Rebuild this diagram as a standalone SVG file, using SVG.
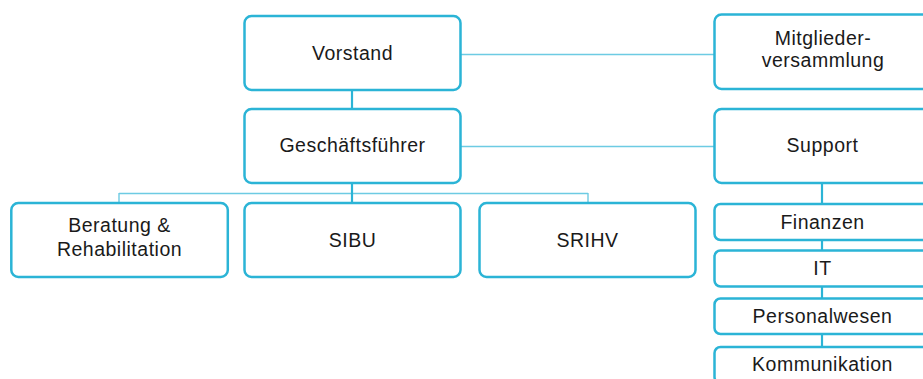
<svg xmlns="http://www.w3.org/2000/svg" width="923" height="379" viewBox="0 0 923 379">
<style>
.box{fill:#ffffff;stroke:#2bb4d6;stroke-width:2.5}
.t{font-family:"Liberation Sans","DejaVu Sans",sans-serif;font-size:19.5px;letter-spacing:0.5px;fill:#1a1a1a;text-anchor:middle}
.thick{stroke:#2bb4d6;stroke-width:2.2;fill:none}
.thin{stroke:#6dcbe3;stroke-width:1.4;fill:none}
</style>
<rect width="923" height="379" fill="#ffffff"/>
<g id="connectors">
<line class="thick" x1="352" y1="90" x2="352" y2="109"/>
<line class="thin" x1="461" y1="54.5" x2="714" y2="54.5"/>
<line class="thin" x1="461" y1="146.5" x2="714" y2="146.5"/>
<line class="thin" x1="119" y1="193.5" x2="588" y2="193.5"/>
<line class="thin" x1="119" y1="193" x2="119" y2="203"/>
<line class="thin" x1="588" y1="193" x2="588" y2="203"/>
<line class="thick" x1="352" y1="183" x2="352" y2="203"/>
<line class="thick" x1="822" y1="183" x2="822" y2="204"/>
<line class="thick" x1="822" y1="240" x2="822" y2="251"/>
<line class="thick" x1="822" y1="286" x2="822" y2="299"/>
<line class="thick" x1="822" y1="334" x2="822" y2="347"/>
</g>
<g id="vorstand"><rect class="box" x="244.5" y="16" width="216" height="74" rx="7"/><text class="t" x="352.5" y="59.5">Vorstand</text></g>
<g id="geschaeftsfuehrer"><rect class="box" x="244.5" y="109" width="216" height="74" rx="7"/><text class="t" x="352.5" y="152">Geschäftsführer</text></g>
<g id="mitglieder"><rect class="box" x="714.5" y="14.5" width="216" height="74.5" rx="7"/><text class="t" x="823" y="45">Mitglieder-</text><text class="t" x="823" y="66.5">versammlung</text></g>
<g id="support"><rect class="box" x="714.5" y="109" width="216" height="74" rx="7"/><text class="t" x="822.5" y="152">Support</text></g>
<g id="beratung"><rect class="box" x="11.3" y="203" width="216.5" height="74" rx="7"/><text class="t" x="119.5" y="231.5">Beratung &amp;</text><text class="t" x="119.5" y="256">Rehabilitation</text></g>
<g id="sibu"><rect class="box" x="244.5" y="203" width="216" height="74" rx="7"/><text class="t" x="352.5" y="246.5">SIBU</text></g>
<g id="srihv"><rect class="box" x="479.5" y="203" width="216" height="74" rx="7"/><text class="t" x="587.5" y="246.5">SRIHV</text></g>
<g id="finanzen"><rect class="box" x="714.5" y="204" width="216" height="36" rx="6"/><text class="t" x="822.5" y="229.3">Finanzen</text></g>
<g id="it"><rect class="box" x="714.5" y="250.5" width="216" height="36" rx="6"/><text class="t" x="822.5" y="275">IT</text></g>
<g id="personalwesen"><rect class="box" x="714.5" y="298.5" width="216" height="35.5" rx="6"/><text class="t" x="822.5" y="322.7">Personalwesen</text></g>
<g id="kommunikation"><rect class="box" x="714.5" y="347" width="216" height="36" rx="6"/><text class="t" x="822.5" y="370.7">Kommunikation</text></g>
</svg>
